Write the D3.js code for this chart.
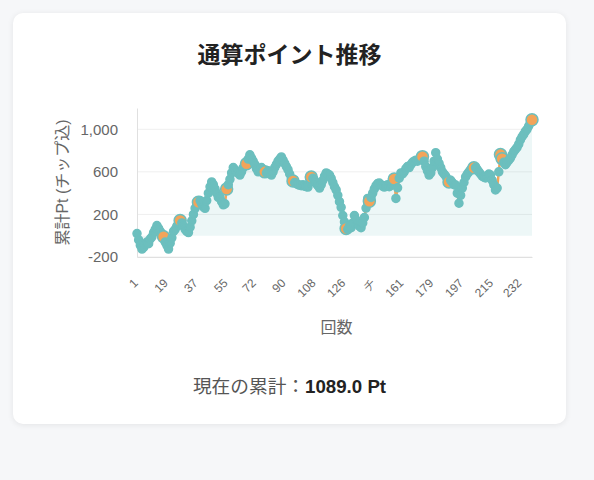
<!DOCTYPE html>
<html>
<head>
<meta charset="utf-8">
<script src="https://cdn.jsdelivr.net/npm/d3@7"></script>
<style>
    body {
        margin: 0;
        background: #f6f7f9;
        font-family: "Helvetica Neue", Arial, "Liberation Sans", "Noto Sans CJK JP", sans-serif;
    }
    .card {
        position: absolute;
        left: 13px;
        top: 13px;
        width: 553px;
        height: 411px;
        background: #fff;
        border-radius: 10px;
        box-shadow: 0 1px 6px rgba(0, 0, 0, 0.08);
    }
    .title {
        position: absolute;
        left: 0;
        width: 100%;
        top: 23px;
        text-align: center;
        font-size: 23px;
        font-weight: bold;
        color: #222;
    }
    .total {
        position: absolute;
        left: 0;
        width: 100%;
        top: 358px;
        text-align: center;
        font-size: 18.7px;
        color: #555;
    }
    .total b { color: #222; }
    .axis-label { fill: #666; font-size: 16px; }
</style>
</head>
<body>
<div class="card">
    <div class="title">通算ポイント推移</div>
    <div id="chart-area"></div>
    <div class="total">現在の累計：<b>1089.0 Pt</b></div>
</div>
<script>
// cumulative points per game (index 0 = game 1)
var totals = [
    20, -40, -90, -125, -110, -80, -60, -75, -30, -10,
    30, 60, 95, 70, 40, 20, -10, -60, -90, -125,
    -70, -20, 40, 60, 90, 110, 143, 120, 90, 60,
    40, 30, 80, 140, 200, 257, 290, 314, 330, 300,
    270, 257, 330, 400, 460, 505, 480, 440, 400, 360,
    360, 320, 290, 300, 438, 480, 530, 590, 640, 620,
    600, 585, 570, 600, 640, 660, 676, 720, 760, 730,
    700, 670, 630, 600, 620, 640, 610, 600, 590, 610,
    590, 570, 600, 640, 670, 700, 720, 740, 710, 680,
    650, 620, 580, 540, 514, 500, 490, 480, 476, 470,
    480, 465, 460, 457, 500, 552, 540, 520, 490, 470,
    448, 480, 520, 560, 590, 580, 570, 540, 500, 460,
    430, 380, 320, 267, 190, 130, 67, 60, 90, 76,
    120, 190, 150, 110, 90, 76, 120, 171, 260, 350,
    324, 360, 400, 440, 470, 490, 495, 480, 465, 457,
    470, 480, 460, 476, 500, 533, 350, 450, 540, 590,
    580, 600, 630, 650, 640, 667, 690, 700, 710, 700,
    720, 730, 743, 700, 650, 610, 570, 590, 640, 700,
    780, 720, 680, 640, 600, 580, 560, 530, 505, 520,
    500, 480, 476, 400, 305, 380, 448, 500, 552, 580,
    600, 620, 630, 638, 640, 620, 600, 580, 560, 550,
    543, 560, 580, 570, 520, 480, 430, 448, 600, 762,
    724, 690, 667, 690, 710, 730, 760, 790, 810, 830,
    860, 900, 930, 952, 980, 1000, 1030, 1060, 1089
];

// games drawn with the larger orange marker
var highlightGames = [16, 26, 37, 54, 66, 77, 94, 105, 126, 140, 155, 172, 188, 203, 219, 220, 238];

// category labels shown on the x axis
var tickIndex = [0, 18, 36, 54, 71, 89, 107, 125, 143, 160, 178, 196, 214, 231];
var tickText = ["1", "19", "37", "55", "72", "90", "108", "126", "チ", "161", "179", "197", "215", "232"];

var yTicks = [-200, 200, 600, 1000];

var margin = { top: 95, right: 34, bottom: 167, left: 124 };
var width = 553 - margin.left - margin.right,
    height = 411 - margin.top - margin.bottom;

var svg = d3.select("#chart-area").append("svg")
    .attr("width", 553)
    .attr("height", 411)
    .style("position", "absolute")
    .style("left", 0)
    .style("top", 0)
    .append("g")
    .attr("transform", "translate(" + margin.left + "," + margin.top + ")");

var data = totals.map(function(v, i) { return { i: i, v: v, hi: highlightGames.indexOf(i) >= 0 }; });

var x = d3.scaleLinear().domain([0, totals.length - 1]).range([0, width]);
var y = d3.scaleLinear().domain([-200, 1200]).range([height, 0]);

// grid lines
svg.append("g")
    .selectAll("line")
    .data(yTicks)
    .enter().append("line")
    .attr("x1", 0)
    .attr("x2", width)
    .attr("y1", function(d) { return y(d); })
    .attr("y2", function(d) { return y(d); })
    .style("stroke", "#efefef")
    .style("stroke-width", 1);

// y axis (plain hyphen for negatives)
var yAxis = svg.append("g")
    .call(d3.axisLeft(y).tickValues(yTicks).tickSize(0).tickPadding(19)
        .tickFormat(function(d) { return d3.format(",")(d).replace("−", "-"); }));
yAxis.select(".domain").style("stroke", "#e0e0e0");
yAxis.selectAll("text").style("fill", "#666").style("font-size", "15px");

// x axis
var xAxis = svg.append("g")
    .attr("transform", "translate(0," + height + ")")
    .call(d3.axisBottom(x).tickValues(tickIndex).tickSize(0)
        .tickFormat(function(d) { return tickText[tickIndex.indexOf(d)]; }));
xAxis.select(".domain").style("stroke", "#e0e0e0");
xAxis.selectAll("text")
    .style("fill", "#666")
    .style("font-size", "12px")
    .style("text-anchor", "end")
    .attr("dx", "-0.15em")
    .attr("dy", "0.3em")
    .attr("transform", "translate(0,23) rotate(-45)")
    .attr("y", 0);

// area down to zero
var area = d3.area()
    .x(function(d) { return x(d.i); })
    .y0(y(0))
    .y1(function(d) { return y(d.v); });

svg.append("path")
    .datum(data)
    .attr("d", area)
    .style("fill", "rgba(108,191,190,0.12)");

var line = d3.line()
    .x(function(d) { return x(d.i); })
    .y(function(d) { return y(d.v); });

svg.append("path")
    .datum(data)
    .attr("d", line)
    .style("fill", "none")
    .style("stroke", "#f2a45a")
    .style("stroke-width", 2.5);

// points, drawn in order so later ones overlap earlier ones
svg.selectAll(".pt")
    .data(data)
    .enter().append("circle")
    .attr("class", "pt")
    .attr("cx", function(d) { return x(d.i); })
    .attr("cy", function(d) { return y(d.v); })
    .attr("r", function(d) { return d.hi ? 6 : 4; })
    .style("fill", function(d) { return d.hi ? "#f2a45a" : "#6cbfbe"; })
    .style("stroke", "#6cbfbe")
    .style("stroke-width", 1.5);

// axis titles
svg.append("text")
    .attr("class", "axis-label")
    .attr("transform", "rotate(-90)")
    .attr("x", -height / 2)
    .attr("y", -69)
    .attr("text-anchor", "middle")
    .text("累計Pt (チップ込)");

svg.append("text")
    .attr("class", "axis-label")
    .attr("x", width / 2 + 2)
    .attr("y", height + 76)
    .attr("text-anchor", "middle")
    .text("回数");
</script>
</body>
</html>
